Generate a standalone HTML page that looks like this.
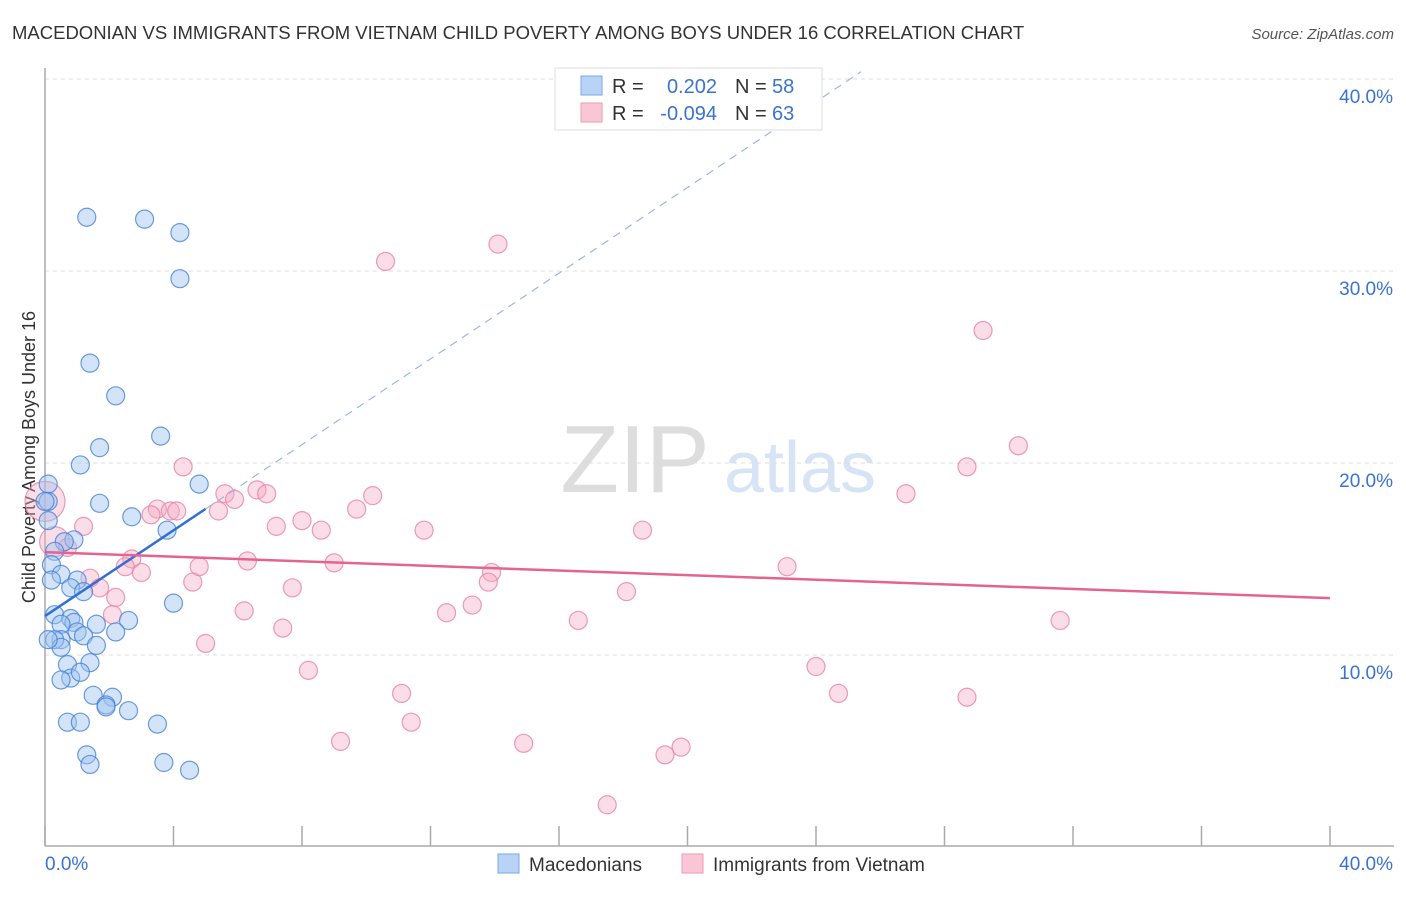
<!DOCTYPE html>
<html><head><meta charset="utf-8"><style>
body{margin:0;background:#fff;font-family:"Liberation Sans",sans-serif;}
svg text{font-family:"Liberation Sans",sans-serif;}
</style></head><body>
<svg id="chart" width="1406" height="892" xmlns="http://www.w3.org/2000/svg">
<text x="12" y="39" font-size="18.5" fill="#333">MACEDONIAN VS IMMIGRANTS FROM VIETNAM CHILD POVERTY AMONG BOYS UNDER 16 CORRELATION CHART</text>
<text x="1394" y="39" font-size="15" fill="#555" font-style="italic" text-anchor="end">Source: ZipAtlas.com</text>
<text x="35" y="457" font-size="18" fill="#333" text-anchor="middle" transform="rotate(-90 35 457)">Child Poverty Among Boys Under 16</text>
<text x="635" y="492" font-size="96" fill="#ddd" font-family="Liberation Serif" text-anchor="middle">ZIP</text>
<text x="800" y="492" font-size="72" fill="#d6e4f5" text-anchor="middle">atlas</text>
<g id="grid"></g><g id="axes"></g><g id="pts"></g><g id="lines"></g>
<g>
<rect x="555" y="68" width="267" height="62" fill="#fff" stroke="#ddd"/>
<rect x="581" y="76" width="21" height="19" fill="#b8d3f5" stroke="#7aa8e3"/>
<rect x="581" y="103" width="21" height="19" fill="#f9c6d6" stroke="#ee9ab5"/>
<text x="612" y="93" font-size="20" fill="#333">R =</text><text x="717" y="93" font-size="20" fill="#3a73d0" text-anchor="end">0.202</text>
<text x="735" y="93" font-size="20" fill="#333">N =</text><text x="772" y="93" font-size="20" fill="#3a73d0">58</text>
<text x="612" y="120" font-size="20" fill="#333">R =</text><text x="717" y="120" font-size="20" fill="#3a73d0" text-anchor="end">-0.094</text>
<text x="735" y="120" font-size="20" fill="#333">N =</text><text x="772" y="120" font-size="20" fill="#3a73d0">63</text>
</g>
<g>
<rect x="498" y="854" width="21" height="19" fill="#b8d3f5" stroke="#7aa8e3"/>
<text x="529" y="871" font-size="19" fill="#333">Macedonians</text>
<rect x="682" y="854" width="21" height="19" fill="#f9c6d6" stroke="#ee9ab5"/>
<text x="713" y="871" font-size="19" fill="#333">Immigrants from Vietnam</text>
</g>
</svg>
<script>
const yTicks=[10,20,30,40];
const xTickCount=10;
const blueX=[1.3,3.1,4.2,4.2,1.4,2.2,3.6,1.7,1.1,4.8,0.1,1.7,0.1,2.7,3.8,0.1,0.9,0.6,0.3,0.2,0.5,0.2,1.0,0.8,1.2,4.0,0.3,0.8,0.9,2.6,0.5,1.6,2.2,1.0,1.2,0.5,0.3,1.6,0.5,1.4,0.7,0.8,1.1,1.5,2.1,1.9,1.9,2.6,0.7,1.1,3.5,1.3,3.7,1.4,4.5,0.1,0.5,0.0];
const blueY=[32.8,32.7,32.0,29.6,25.2,23.5,21.4,20.8,19.9,18.9,18.9,17.9,18.0,17.2,16.5,17.0,16.0,15.9,15.4,14.7,14.2,13.9,13.9,13.5,13.3,12.7,12.1,11.9,11.7,11.8,11.6,11.6,11.2,11.2,11.0,10.8,10.8,10.5,10.4,9.6,9.5,8.8,9.1,7.9,7.8,7.4,7.3,7.1,6.5,6.5,6.4,4.8,4.4,4.3,4.0,10.8,8.7,18.0];
const pinkX=[14.1,10.6,29.2,30.3,28.7,4.3,26.8,5.6,6.6,6.9,10.2,5.9,5.4,3.5,3.9,4.1,3.3,9.7,1.2,8.0,7.2,8.6,11.8,18.6,0.0,0.3,0.7,2.7,6.3,9.0,23.1,2.5,4.8,3.0,1.4,13.9,13.8,4.6,1.7,7.7,2.2,18.1,13.3,12.5,6.2,2.1,16.6,31.6,7.4,5.0,8.2,24.0,24.7,11.1,28.7,11.4,9.2,14.9,19.8,19.3,17.5];
const pinkY=[31.4,30.5,26.9,20.9,19.8,19.8,18.4,18.4,18.6,18.4,18.3,18.1,17.5,17.6,17.5,17.5,17.3,17.6,16.7,17.0,16.7,16.5,16.5,16.5,18.0,15.9,15.6,15.0,14.9,14.8,14.6,14.6,14.6,14.3,14.0,14.3,13.8,13.8,13.5,13.5,13.0,13.3,12.6,12.2,12.3,12.1,11.8,11.8,11.4,10.6,9.2,9.4,8.0,8.0,7.8,6.5,5.5,5.4,5.2,4.8,2.2];
const blueTrend=[1.116,12.03];
const pinkTrend=[-0.06,15.36];
const NS="http://www.w3.org/2000/svg";
const X=v=>45+v*32.125, Y=v=>847-v*19.2;
function mk(t,a,p){const e=document.createElementNS(NS,t);for(const k in a)e.setAttribute(k,a[k]);document.getElementById(p).appendChild(e);return e;}
yTicks.forEach(t=>{
 const l=mk('line',{x1:45,x2:1394,y1:Y(t),y2:Y(t),stroke:'#ddd','stroke-dasharray':'4,4'},'grid');
 
 
 const tx=mk('text',{x:1393,y:Y(t)+24,'font-size':19,fill:'#3a73d0','text-anchor':'end'},'axes');tx.textContent=t.toFixed(1)+'%';
 
 
});
const ax=mk('line',{x1:45,x2:45,y1:68,y2:846,stroke:'#aaa','stroke-width':1.5},'axes');


const bx=mk('line',{x1:45,x2:1394,y1:846,y2:846,stroke:'#aaa','stroke-width':1.5},'axes');


for(let i=0;i<=xTickCount;i++){const t=mk('line',{x1:X(i*4),x2:X(i*4),y1:826,y2:846,stroke:'#aaa','stroke-width':1.5},'axes');
 
 }
const l0=mk('text',{x:45,y:870,'font-size':19,fill:'#3a73d0'},'axes');l0.textContent='0.0%';


const l1=mk('text',{x:1393,y:870,'font-size':19,fill:'#3a73d0','text-anchor':'end'},'axes');l1.textContent='40.0%';


pinkX.forEach((x,i)=>{const r=(i==24?20:(i==25?15:9));const c=mk('circle',{cx:X(x),cy:Y(pinkY[i]),r:r,fill:'rgba(246,170,195,0.4)',stroke:'rgba(232,130,165,0.8)','stroke-width':1.2},'pts');
 
 });
blueX.forEach((x,i)=>{const c=mk('circle',{cx:X(x),cy:Y(blueY[i]),r:9,fill:'rgba(160,195,240,0.45)',stroke:'rgba(70,130,215,0.8)','stroke-width':1.2},'pts');
 
 });
const bf=v=>blueTrend[0]*v+blueTrend[1], pf=v=>pinkTrend[0]*v+pinkTrend[1];
const bd=mk('line',{x1:X(5),y1:Y(bf(5)),x2:X(25.4),y2:Y(bf(25.4)),stroke:'#9ab8e0','stroke-width':1.2,'stroke-dasharray':'8,6'},'lines');


const bs=mk('line',{x1:X(0),y1:Y(bf(0)),x2:X(5),y2:Y(bf(5)),stroke:'#2f6fd6','stroke-width':2.5},'lines');


const ps=mk('line',{x1:X(0),y1:Y(pf(0)),x2:X(40),y2:Y(pf(40)),stroke:'#e5638f','stroke-width':2.5},'lines');


</script>
</body></html>
